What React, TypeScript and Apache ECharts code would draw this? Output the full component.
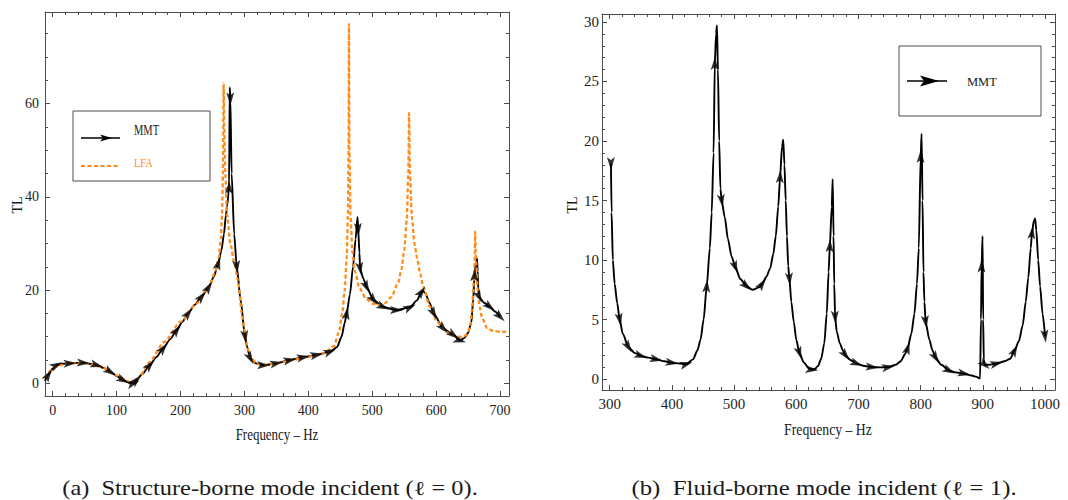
import React, { useEffect, useRef } from "react";
import * as echarts from "echarts";

// ---------- Data: (a) Structure-borne mode incident ----------
const leftMmtF = [-12, -7, 0, 6, 15, 27, 38, 48, 58, 69, 80, 90, 100, 110, 120, 126, 131, 140, 152, 162, 173, 184, 194, 203, 212, 222, 233, 244, 252, 259, 264, 268, 271, 273, 276, 277, 278, 280, 284, 288, 294, 301, 304, 309, 318, 330, 350, 371, 392, 413, 434, 445, 452, 457, 460, 465, 470, 474, 477, 478, 480, 481, 486, 491, 502, 517, 538, 559, 570, 577, 580, 583, 590, 596, 611, 627, 637, 644, 650, 655, 658, 660, 662, 664, 665, 666, 667, 675, 684, 692, 700];
const leftMmtTL = [0.5, 1.8, 3.2, 3.9, 4.2, 4.3, 4.4, 4.4, 4.2, 3.9, 3.3, 2.5, 1.6, 0.7, 0.2, 0.0, 0.7, 2.0, 3.9, 5.6, 7.5, 9.5, 11.4, 13.2, 15.0, 16.8, 18.6, 20.6, 22.8, 25.7, 28.5, 32, 36, 38, 42, 63.5, 61, 45, 32, 25, 18, 10, 7.9, 5.4, 4.3, 3.9, 4.3, 5.0, 5.6, 6.1, 6.8, 7.8, 10, 13, 15, 19, 25, 31, 35.7, 33, 28, 24.6, 22.5, 20.7, 17.9, 16.4, 15.7, 16.3, 17.8, 19.6, 19.8, 19.3, 17.2, 15.0, 11.8, 10.4, 9.2, 9.7, 10.8, 13, 18, 23.2, 25.5, 26.8, 24, 20, 18.6, 17.3, 16.4, 15.4, 14.3];
const leftMmtArrow = [0, 1, 0, 1, 0, 1, 0, 1, 0, 1, 0, 1, 0, 1, 0, 1, 1, 0, 1, 0, 1, 0, 1, 0, 1, 0, 1, 1, 0, 1, 0, 0, 0, 0, 1, 0, 1, 0, 0, 1, 0, 1, 0, 1, 0, 1, 1, 1, 1, 1, 1, 0, 0, 0, 1, 0, 0, 0, 0, 1, 0, 1, 0, 1, 1, 1, 1, 1, 0, 1, 0, 0, 0, 1, 1, 1, 1, 0, 0, 0, 0, 1, 0, 0, 0, 0, 1, 0, 1, 0, 1];

const leftLfaF = [-12, -5, 0, 10, 25, 50, 75, 100, 115, 125, 135, 150, 175, 200, 225, 245, 255, 260, 263, 265, 266.5, 267.5, 268.5, 270, 273, 278, 284, 290, 296, 300, 305, 310, 320, 330, 350, 375, 400, 425, 440, 448, 453, 457, 460, 462, 463, 463.6, 464.3, 466, 469, 473, 480, 490, 500, 510, 520, 530, 540, 546, 550, 554, 556.5, 557.6, 559, 562, 566, 570, 575, 580, 590, 600, 610, 620, 630, 640, 648, 653, 656, 659, 660.5, 661, 662, 663, 665, 668, 672, 680, 690, 700, 714];
const leftLfaTL = [1.2, 2.5, 3.3, 3.9, 4.3, 4.4, 3.6, 1.7, 0.6, 0.0, 1.2, 4.4, 8.9, 13.2, 17.1, 20.8, 24.2, 27, 31, 36, 45, 64.3, 55, 45, 36, 30, 26, 22, 15, 11.5, 7.5, 5.5, 4.2, 3.9, 4.3, 5.0, 5.7, 6.5, 8.0, 11, 15, 20, 27, 36, 50, 77, 50, 36, 28, 24, 20.4, 18.2, 17.1, 16.8, 17.2, 18.5, 21.4, 24.5, 28.6, 35, 45, 57.9, 45, 35.7, 30, 27, 23.5, 20.7, 16.5, 13.6, 11.8, 10.7, 10.1, 9.9, 10.4, 12, 15.7, 22, 28, 32.5, 28, 25, 20, 16.4, 14, 11.8, 11.2, 11.1, 11.0];

// ---------- Data: (b) Fluid-borne mode incident ----------
const rightMmtF = [302, 303, 305, 308, 312, 316, 321, 330, 340, 350, 362, 375, 388, 400, 412, 423, 434, 441, 446, 451, 456, 461, 464, 467, 469, 471, 472.5, 474, 476, 478, 480, 485, 490, 496, 502, 510, 520, 530, 540, 545, 552, 558, 563, 567, 571, 574, 577, 579, 581, 583, 585, 587, 589, 592, 596, 600, 605, 612, 620, 625, 630, 635, 640, 645, 649, 652, 654, 657, 658.5, 660, 661, 662.5, 665, 670, 675, 679, 687, 697, 710, 722, 735, 748, 760, 768, 775, 779, 785, 790, 794, 797, 800, 801.5, 803, 804.5, 806, 808, 814, 819, 824, 833, 846, 858, 870, 882, 889, 895.5, 897, 898, 899.5, 900.5, 901.5, 903, 910, 922, 935, 944, 951, 958, 964, 969, 973, 977, 979, 982, 984, 986, 989, 992, 996, 1000];
const rightMmtTL = [18.1, 14, 10, 8.0, 6.4, 5.0, 3.8, 2.7, 2.2, 1.95, 1.8, 1.65, 1.5, 1.37, 1.3, 1.26, 1.65, 2.4, 3.3, 5.0, 7.8, 11, 14, 19, 26.5, 29, 29.7, 26, 20, 16, 15, 13.6, 11.8, 10.3, 9.4, 8.4, 7.8, 7.5, 7.7, 8.0, 8.6, 9.3, 10.5, 12, 14.5, 17, 19.5, 20.1, 18, 15, 12, 9.5, 8.4, 6.5, 4.8, 3.3, 2.2, 1.4, 0.9, 0.8, 0.85, 1.1, 1.7, 3.0, 5.5, 9, 11.2, 14.5, 16.8, 12, 8, 5.2, 4.0, 3.0, 2.4, 2.0, 1.6, 1.3, 1.1, 1.0, 0.98, 1.0, 1.2, 1.5, 2.1, 2.6, 3.8, 5.5, 8, 11, 18.7, 20.6, 15, 9, 6.5, 4.8, 3.3, 2.4, 1.8, 1.2, 0.7, 0.55, 0.45, 0.3, 0.2, 0.05, 5, 9.5, 12, 5, 1.6, 1.2, 1.2, 1.3, 1.5, 1.7, 2.4, 3.2, 4.5, 6.5, 8.5, 11, 12.3, 13.3, 13.5, 12.5, 10, 7.8, 5.5, 3.6];
const rightMmtArrow = [1, 0, 0, 0, 0, 1, 0, 1, 0, 1, 0, 1, 0, 1, 0, 1, 0, 0, 0, 0, 1, 0, 0, 0, 1, 0, 0, 0, 0, 0, 1, 0, 0, 0, 1, 0, 1, 0, 0, 1, 0, 0, 0, 0, 0, 1, 0, 0, 0, 0, 0, 0, 1, 0, 0, 0, 1, 0, 0, 1, 0, 0, 0, 0, 0, 0, 1, 0, 0, 0, 0, 1, 0, 0, 0, 1, 0, 1, 0, 1, 0, 1, 0, 0, 0, 1, 0, 0, 0, 0, 1, 0, 0, 0, 0, 1, 0, 0, 1, 0, 1, 0, 1, 0, 0, 0, 0, 1, 0, 0, 0, 1, 0, 1, 0, 0, 1, 0, 0, 0, 0, 0, 1, 0, 0, 0, 0, 0, 0, 1];

// ---------- Ticks ----------
const leftXTicks = [0, 100, 200, 300, 400, 500, 600, 700];
const leftYTicks = [0, 20, 40, 60];
const rightXTicks = [300, 400, 500, 600, 700, 800, 900, 1000];
const rightYTicks = [0, 5, 10, 15, 20, 25, 30];

const leftXRange = [-12, 714];
const leftYRange = [-2.7, 79.6];
const rightXRange = [287.6, 1016];
const rightYRange = [-0.92, 30.67];

const steps = (a: number, b: number, s: number) => {
  const out: number[] = [];
  for (let v = a; v <= b + 1e-9; v += s) out.push(Math.round(v * 1000) / 1000);
  return out;
};
const leftXMinor = steps(0, 700, 20);
const leftYMinor = steps(0, 75, 5);
const rightXMinor = steps(300, 1000, 20);
const rightYMinor = steps(0, 30, 1);

const FONT = "Liberation Serif";
const FRAME = "#4d4d4d";
const ORANGE = "#ff8c1a";
const ARROW = "path://M5 0 L10 16 L5 12.5 L0 16 Z";

function makeAxes(
  dim: "x" | "y",
  grid: number,
  range: number[],
  major: number[],
  minor: number[],
  fontSize: number,
  margin: number
) {
  const posMain = dim === "x" ? "bottom" : "left";
  const posOther = dim === "x" ? "top" : "right";
  const base = {
    type: "value",
    gridIndex: grid,
    min: range[0],
    max: range[1],
    splitLine: { show: false },
    scale: true,
  };
  return [
    {
      ...base,
      position: posMain,
      axisLine: { show: true, onZero: false, lineStyle: { color: FRAME, width: 1 } },
      axisTick: { show: true, inside: true, length: 5, customValues: major, lineStyle: { color: FRAME } },
      axisLabel: {
        show: true,
        customValues: major,
        formatter: (v: number) => String(v),
        fontFamily: FONT,
        fontSize,
        color: "#222",
        margin,
      },
    },
    {
      ...base,
      position: posMain,
      axisLine: { show: false, onZero: false },
      axisTick: { show: true, inside: true, length: 3, customValues: minor, lineStyle: { color: FRAME } },
      axisLabel: { show: false },
    },
    {
      ...base,
      position: posOther,
      axisLine: { show: true, onZero: false, lineStyle: { color: FRAME, width: 1 } },
      axisTick: { show: true, inside: true, length: 5, customValues: major, lineStyle: { color: FRAME } },
      axisLabel: { show: false },
    },
    {
      ...base,
      position: posOther,
      axisLine: { show: false, onZero: false },
      axisTick: { show: true, inside: true, length: 3, customValues: minor, lineStyle: { color: FRAME } },
      axisLabel: { show: false },
    },
  ];
}

function pairs(F: number[], T: number[]) {
  return F.map((f, i) => [f, T[i]]);
}

function arrowData(chart: any, seriesIndex: number, F: number[], T: number[], flags: number[]) {
  const pts = F.map((f, i) => chart.convertToPixel({ seriesIndex }, [f, T[i]]) as number[]);
  const n = F.length;
  const out: any[] = [];
  for (let i = 0; i < n; i++) {
    if (!flags[i]) continue;
    const a = pts[Math.max(0, i - 1)];
    const b = pts[Math.min(n - 1, i + 1)];
    const dx = b[0] - a[0];
    const dy = b[1] - a[1];
    const ang = (Math.atan2(-dy, dx) * 180) / Math.PI - 90;
    out.push({ value: [F[i], T[i]], symbolRotate: ang });
  }
  return out;
}

function txt(x: number, y: number, text: string, size: number, extra: any = {}) {
  const { style, ...rest } = extra;
  return {
    type: "text",
    x,
    y,
    ...rest,
    style: {
      text,
      fontFamily: FONT,
      fontSize: size,
      fill: "#1a1a1a",
      align: "center",
      verticalAlign: "middle",
      ...(style || {}),
    },
  };
}

export default function App() {
  const ref = useRef<HTMLDivElement>(null);
  useEffect(() => {
    if (!ref.current) return;
    const chart = echarts.init(ref.current, null, { renderer: "svg" });

    const option: any = {
      animation: false,
      backgroundColor: "#fff",
      textStyle: { fontFamily: FONT },
      grid: [
        { left: 45, top: 12, width: 464, height: 384 },
        { left: 602, top: 14, width: 453, height: 376 },
      ],
      xAxis: [
        ...makeAxes("x", 0, leftXRange, leftXTicks, leftXMinor, 14, 7),
        ...makeAxes("x", 1, rightXRange, rightXTicks, rightXMinor, 15, 6),
      ],
      yAxis: [
        ...makeAxes("y", 0, leftYRange, leftYTicks, leftYMinor, 14, 6),
        ...makeAxes("y", 1, rightYRange, rightYTicks, rightYMinor, 15, 3),
      ],
      series: [
        {
          name: "MMT",
          type: "line",
          xAxisIndex: 0,
          yAxisIndex: 0,
          data: pairs(leftMmtF, leftMmtTL),
          showSymbol: false,
          symbol: "none",
          smooth: 0.25,
          smoothMonotone: "x",
          lineStyle: { color: "#000", width: 1.9 },
          z: 2,
        },
        {
          name: "LFA",
          type: "line",
          xAxisIndex: 0,
          yAxisIndex: 0,
          data: pairs(leftLfaF, leftLfaTL),
          showSymbol: false,
          symbol: "none",
          smooth: 0.25,
          smoothMonotone: "x",
          lineStyle: { color: ORANGE, width: 2.3, type: [4, 2.5] },
          z: 3,
        },
        {
          name: "MMT arrows",
          type: "scatter",
          xAxisIndex: 0,
          yAxisIndex: 0,
          data: [],
          symbol: ARROW,
          symbolSize: [8, 13],
          itemStyle: { color: "#000" },
          z: 4,
        },
        {
          name: "MMT (b)",
          type: "line",
          xAxisIndex: 4,
          yAxisIndex: 4,
          data: pairs(rightMmtF, rightMmtTL),
          showSymbol: false,
          symbol: "none",
          smooth: 0.25,
          smoothMonotone: "x",
          lineStyle: { color: "#000", width: 1.9 },
          z: 2,
        },
        {
          name: "MMT (b) arrows",
          type: "scatter",
          xAxisIndex: 4,
          yAxisIndex: 4,
          data: [],
          symbol: ARROW,
          symbolSize: [8, 13],
          itemStyle: { color: "#000" },
          z: 4,
        },
      ],
      graphic: [
        txt(17, 205, "TL", 14, { rotation: Math.PI / 2 }),
        txt(572, 205, "TL", 14, { rotation: Math.PI / 2 }),
        txt(277, 435, "Frequency – Hz", 16, { scaleX: 0.81 }),
        txt(828, 430, "Frequency – Hz", 16, { scaleX: 0.86 }),
        txt(270, 488, "(a)  Structure-borne mode incident (ℓ = 0).", 20, { scaleX: 1.22 }),
        txt(824, 488, "(b)  Fluid-borne mode incident (ℓ = 1).", 20, { scaleX: 1.24 }),
        // left legend
        {
          type: "rect",
          shape: { x: 73, y: 111, width: 137, height: 70 },
          style: { fill: "#fff", stroke: FRAME, lineWidth: 1 },
          z: 10,
        },
        {
          type: "line",
          shape: { x1: 81, y1: 138, x2: 120, y2: 138 },
          style: { stroke: "#000", lineWidth: 1.4 },
          z: 11,
        },
        {
          type: "polygon",
          shape: { points: [[112, 138], [100, 134.5], [103, 138], [100, 141.5]] },
          style: { fill: "#000" },
          z: 11,
        },
        { ...txt(134, 130, "MMT", 14, { scaleX: 0.75, style: { align: "left" } }), z: 11 },
        {
          type: "line",
          shape: { x1: 81, y1: 166, x2: 120, y2: 166 },
          style: { stroke: ORANGE, lineWidth: 2.2, lineDash: [4, 2.5] },
          z: 11,
        },
        { ...txt(134, 163, "LFA", 13, { scaleX: 0.8, style: { align: "left", fill: ORANGE } }), z: 11 },
        // right legend
        {
          type: "rect",
          shape: { x: 899, y: 46, width: 142, height: 70 },
          style: { fill: "#fff", stroke: FRAME, lineWidth: 1 },
          z: 10,
        },
        {
          type: "line",
          shape: { x1: 907, y1: 81, x2: 947, y2: 81 },
          style: { stroke: "#000", lineWidth: 1.4 },
          z: 11,
        },
        {
          type: "polygon",
          shape: { points: [[939, 81], [920, 75.5], [924, 81], [920, 86.5]] },
          style: { fill: "#000" },
          z: 11,
        },
        { ...txt(967, 82, "MMT", 12.5, { style: { align: "left" } }), z: 11 },
      ],
    };

    chart.setOption(option);
    chart.setOption({
      series: [
        {},
        {},
        { data: arrowData(chart, 0, leftMmtF, leftMmtTL, leftMmtArrow) },
        {},
        { data: arrowData(chart, 3, rightMmtF, rightMmtTL, rightMmtArrow) },
      ],
    });

    return () => chart.dispose();
  }, []);

  return (
    <div
      ref={ref}
      style={{ position: "absolute", left: 0, top: 0, width: 1068, height: 500, background: "#fff" }}
    />
  );
}
